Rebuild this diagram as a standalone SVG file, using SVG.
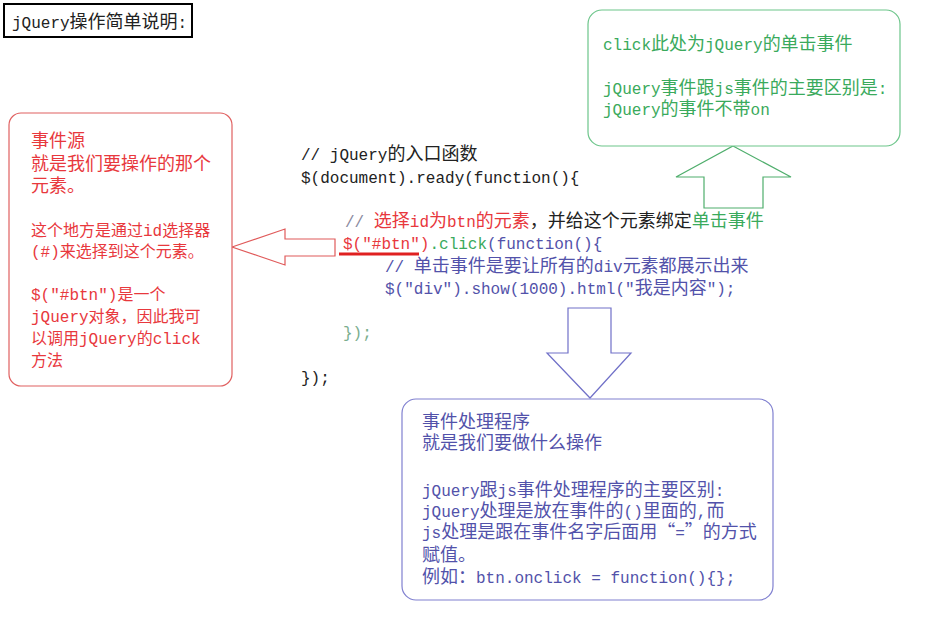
<svg xmlns="http://www.w3.org/2000/svg" width="926" height="625" viewBox="0 0 926 625">
<style>
text{font-family:"Liberation Mono","Noto Sans CJK SC",monospace;font-size:16px;}
.k{font-family:"Noto Sans CJK SC","Liberation Mono",sans-serif;font-size:18px;}
.s .k{font-size:16px;}
.red{fill:#e8383d;}
.grn{fill:#3aaa5c;}
.blu{fill:#5252aa;}
.blk{fill:#222;}
.gry{fill:#8a8aa0;}
.lg{fill:#7aae8e;}
.box{fill:#fff;stroke-width:1.2;}
</style>
<rect width="926" height="625" fill="#fff"/>

<g id="title">
<rect x="4" y="4" width="188" height="33" fill="#fff" stroke="#000" stroke-width="2"/>
<text x="12" y="28" class="blk">jQuery<tspan class="k">操作简单说明</tspan>:</text>
</g>

<g id="connectors">
<polygon points="733,146 791,177 763,177 763,208 704,208 704,177 676,177" fill="#fff" stroke="#4fae6c" stroke-width="1.2"/>
<polygon points="232,247 285,229 285,239 335,239 335,256 285,256 285,265" fill="#fff" stroke="#e05a5a" stroke-width="1.2"/>
<polygon points="568,308 611,308 611,353 631,353 590,398 547,353 568,353" fill="#fff" stroke="#7070c8" stroke-width="1.2"/>
<line x1="339" y1="254" x2="419" y2="254" stroke="#e02020" stroke-width="3"/>
</g>

<g id="note-click">
<rect class="box" x="588" y="10" width="312" height="136" rx="14" stroke="#6cc58a"/>
<text x="603" y="50" class="grn">click<tspan class="k">此处为</tspan>jQuery<tspan class="k">的单击事件</tspan></text>
<text x="603" y="94" class="grn">jQuery<tspan class="k">事件跟</tspan>js<tspan class="k">事件的主要区别是</tspan>:</text>
<text x="603" y="115" class="grn">jQuery<tspan class="k">的事件不带</tspan>on</text>
</g>

<g id="note-source">
<rect class="box" x="9" y="113" width="223" height="273" rx="12" stroke="#e06060"/>
<text x="31" y="147" class="red k">事件源</text>
<text x="31" y="170" class="red k">就是我们要操作的那个</text>
<text x="31" y="192" class="red k">元素。</text>
<g class="s">
<text x="31" y="236" class="red"><tspan class="k">这个地方是通过</tspan>id<tspan class="k">选择器</tspan></text>
<text x="31" y="257" class="red">(#)<tspan class="k">来选择到这个元素。</tspan></text>
<text x="31" y="300" class="red">$("#btn")<tspan class="k">是一个</tspan></text>
<text x="31" y="322" class="red">jQuery<tspan class="k">对象，因此我可</tspan></text>
<text x="31" y="344" class="red"><tspan class="k">以调用</tspan>jQuery<tspan class="k">的</tspan>click</text>
<text x="31" y="366" class="red"><tspan class="k">方法</tspan></text>
</g>
</g>

<g id="code">
<text x="301" y="160" class="blk">// jQuery<tspan class="k">的入口函数</tspan></text>
<text x="301" y="183" class="blk">$(document).ready(function(){</text>
<text x="345" y="227"><tspan class="gry">// </tspan><tspan class="red k">选择</tspan><tspan class="red">id</tspan><tspan class="red k">为</tspan><tspan class="red">btn</tspan><tspan class="red k">的元素</tspan><tspan class="blk k">，并给这个元素绑定</tspan><tspan class="grn k">单击事件</tspan></text>
<text x="343" y="249"><tspan class="red">$("#btn")</tspan><tspan class="grn">.click</tspan><tspan class="blu">(function(){</tspan></text>
<text x="385" y="272" class="blu">// <tspan class="k">单击事件是要让所有的</tspan>div<tspan class="k">元素都展示出来</tspan></text>
<text x="385" y="294" class="blu">$("div").show(1000).html("<tspan class="k">我是内容</tspan>");</text>
<text x="343" y="338" class="lg">});</text>
<text x="301" y="383" class="blk">});</text>
</g>

<g id="note-handler">
<rect class="box" x="402" y="399" width="371" height="201" rx="14" stroke="#8080d0"/>
<text x="422" y="428" class="blu k">事件处理程序</text>
<text x="422" y="449" class="blu k">就是我们要做什么操作</text>
<text x="422" y="496" class="blu">jQuery<tspan class="k">跟</tspan>js<tspan class="k">事件处理程序的主要区别</tspan>:</text>
<text x="422" y="517" class="blu">jQuery<tspan class="k">处理是放在事件的</tspan>()<tspan class="k">里面的</tspan>,<tspan class="k">而</tspan></text>
<text x="422" y="538" class="blu">js<tspan class="k">处理是跟在事件名字后面用“</tspan>=<tspan class="k">”的方式</tspan></text>
<text x="422" y="561" class="blu k">赋值。</text>
<text x="422" y="583" class="blu"><tspan class="k">例如：</tspan>btn.onclick = function(){};</text>
</g>
</svg>
